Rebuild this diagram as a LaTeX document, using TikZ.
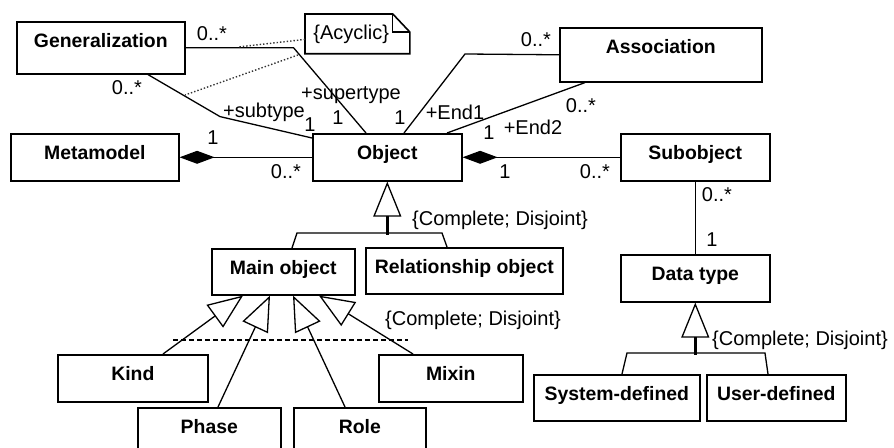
\documentclass[tikz,border=0pt]{standalone}
\usepackage{fontspec}
\setmainfont{Liberation Sans}
\usetikzlibrary{arrows.meta,calc}
\newcommand\classfont{\fontsize{9.7}{11}\selectfont\bfseries}
\newcommand\multfont{\fontsize{10}{12}\selectfont}

\begin{document}
\begin{tikzpicture}[x=0.5pt,y=-0.5pt,
    cls/.style={draw, line width=0.8pt, font=\classfont, inner sep=0pt,
        text height=13pt, text depth=10.5pt, anchor=north west},
    lbl/.style={font=\multfont, inner sep=0pt},
    link/.style={line width=0.65pt},
    comp/.style={line width=0.65pt, {Diamond[length=17.5pt,width=6.5pt]}-},
    inh/.style={line width=0.65pt, -{Triangle[open,length=17.5pt,width=14pt]}},
    stem/.style={line width=1.4pt, -{Triangle[open,line width=0.65pt,length=17.5pt,width=14pt]}},
    noteline/.style={densely dotted, line width=0.7pt, gray!40!black},
    gset/.style={line width=0.65pt, dash pattern=on 2.5pt off 1.5pt}]
    \useasboundingbox (0,0) rectangle (894,448);

    \node[cls, minimum width=84pt, text depth=13pt] (gen) at (16,21) {Generalization};
    \node[cls, minimum width=84pt] (meta) at (10,133) {Metamodel};
    \node[cls, minimum width=74.5pt] (obj) at (312,133) {Object};
    \node[cls, minimum width=101pt, text depth=14pt] (assoc) at (559,27) {Association};
    \node[cls, minimum width=74.5pt] (sub) at (620,133) {Subobject};
    \node[cls, minimum width=71.5pt, text depth=10pt] (main) at (211,248) {Main object};
    \node[cls, minimum width=98.5pt, text depth=10pt] (rel) at (365,247) {Relationship object};
    \node[cls, minimum width=74.5pt] (dtype) at (620,254) {Data type};
    \node[cls, minimum width=75pt] (kind) at (57,354) {Kind};
    \node[cls, minimum width=72pt] (mixin) at (378,354) {Mixin};
    \node[cls, minimum width=71.5pt] (phase) at (137,407) {Phase};
    \node[cls, minimum width=66pt] (role) at (293,407) {Role};
    \node[cls, minimum width=83pt, text depth=10pt] (sysdef) at (533,374) {System-defined};
    \node[cls, minimum width=69.5pt, text depth=10pt] (userdef) at (706,374) {User-defined};

    \node[font=\multfont, inner xsep=4pt, inner ysep=0pt, text width=44pt,
        minimum height=19.5pt, anchor=north west] (acyc) at (305,14) {\{Acyclic\}};
    \draw[line width=0.8pt] (acyc.south west) -- (acyc.north west) -- ($(acyc.north east)+(-17,0)$)
        -- ($(acyc.north east)+(0,18)$) -- (acyc.south east) -- cycle;
    \draw[link] ($(acyc.north east)+(-17,0)$) |- ($(acyc.north east)+(0,18)$);

    \draw[link] (gen.east) -- ++(108,0) -- ($(obj.north west)+(54,0)$);
    \draw[link] ($(gen.south west)+(132,0)$) -- ++(72,42) -- ($(obj.north west)+(0,5)$);
    \coordinate (sup1) at (238,47);
    \coordinate (sup2) at (298,55);
    \coordinate (sub1) at (185,95);
    \draw[noteline] ($(acyc.west)+(0,5.5)$) -- (sup1);
    \draw[noteline] (sup2) -- (sub1);

    \draw[link] ($(obj.north west)+(92,0)$) -- ++(61,-79) -- (assoc.west);
    \draw[link] ($(obj.north west)+(135,0)$) -- ($(assoc.south west)+(26,0)$);
    \draw[comp] (meta.east) -- (obj.west);
    \draw[comp] (obj.east) -- (sub.west);
    \draw[link] (sub.south) -- (dtype.north);

    \draw[stem] ($(obj.south)+(0,53)$) coordinate (objbar) -- (obj.south);
    \draw[link] ($(main.north west)+(81,0)$) -- ++(5,-15) -- ++(145,0) -- ($(rel.north west)+(82,0)$);

    \draw[inh] ($(kind.north west)+(106,0)$) -- ($(main.south west)+(32,0)$);
    \draw[inh] ($(phase.north west)+(81,0)$) -- ($(main.south west)+(59,0)$);
    \draw[inh] ($(role.north west)+(52,0)$) -- ($(main.south west)+(82,0)$);
    \draw[inh] ($(mixin.north west)+(35,0)$) -- ($(main.south west)+(108,0)$);
    \coordinate (gsleft) at (173,340);
    \coordinate (gsright) at (408,340);
    \draw[gset] (gsleft) -- (gsright);

    \draw[stem] ($(dtype.south)+(0,52)$) coordinate (dtbar) -- (dtype.south);
    \draw[link] ($(sysdef.north west)+(89,0)$) -- ++(5,-21) -- ++(138,0) -- ($(userdef.north west)+(62,0)$);

    \node[lbl] (m1) at (212,34) {0..*};
    \node[lbl] (m2) at (127,88) {0..*};
    \node[lbl] (r1) at (351,95) {+supertype};
    \node[lbl] (r2) at (264,112) {+subtype};
    \node[lbl] (m3) at (338,118) {1};
    \node[lbl] (m4) at (310,125) {1};
    \node[lbl] (m5) at (400,118) {1};
    \node[lbl] (r3) at (455,112) {+End1};
    \node[lbl] (m6) at (536,40) {0..*};
    \node[lbl] (m7) at (581,106) {0..*};
    \node[lbl] (r4) at (533,127) {+End2};
    \node[lbl] (m8) at (489,133) {1};
    \node[lbl] (m9) at (213,138) {1};
    \node[lbl] (m10) at (286,172) {0..*};
    \node[lbl] (m11) at (505,172) {1};
    \node[lbl] (m12) at (595,172) {0..*};
    \node[lbl] (m13) at (717,195) {0..*};
    \node[lbl] (m14) at (712,240) {1};
    \node[lbl] (cd1) at (500,220) {\{Complete; Disjoint\}};
    \node[lbl] (cd2) at (473,320) {\{Complete; Disjoint\}};
    \node[lbl] (cd3) at (800,340) {\{Complete; Disjoint\}};
\end{tikzpicture}
\end{document}
